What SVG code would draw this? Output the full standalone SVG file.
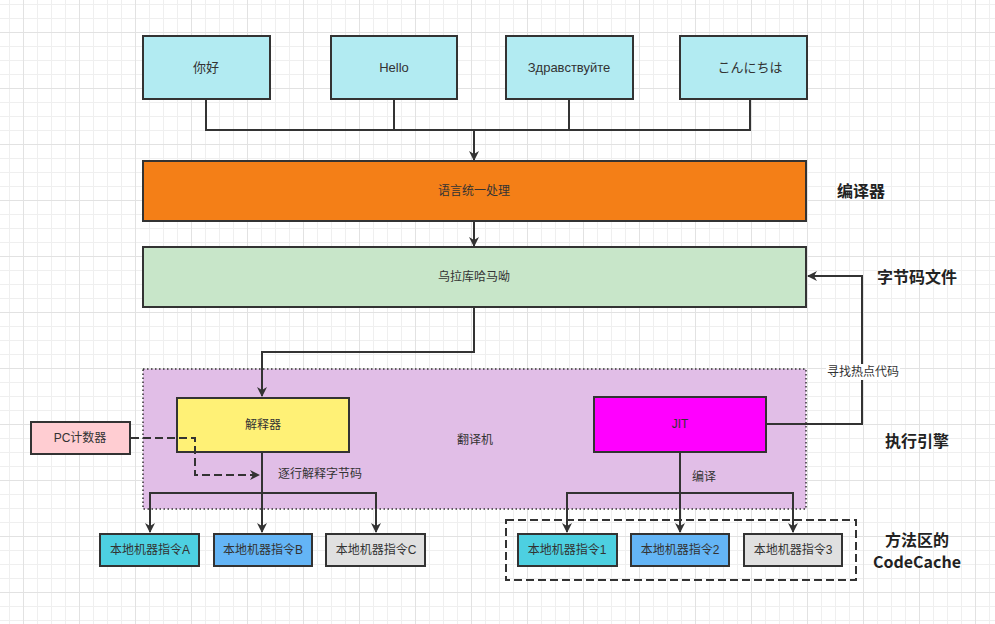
<svg xmlns="http://www.w3.org/2000/svg" width="995" height="624" viewBox="0 0 995 624">
<defs>
<pattern id="grid" patternUnits="userSpaceOnUse" x="23" y="32" width="56" height="56">
<path d="M14.5 0V56M28.5 0V56M42.5 0V56M0 14.5H56M0 28.5H56M0 42.5H56" stroke="#efefef" stroke-width="1" fill="none"/>
<path d="M0.5 0V56M0 0.5H56" stroke="#e2e2e2" stroke-width="1" fill="none"/>
</pattern>
<marker id="arr" viewBox="0 0 10 10" refX="9" refY="5" markerWidth="10" markerHeight="10" markerUnits="userSpaceOnUse" orient="auto">
<path d="M0 0L10 5L0 10L3 5Z" fill="#333"/>
</marker>
<style>
.box{stroke:#333;stroke-width:2}
.t{font-family:"Liberation Sans","Noto Sans CJK SC",sans-serif;font-size:12px;fill:#333;text-anchor:middle;dominant-baseline:central}
.big{font-size:13px}
.lbl{font-family:"Noto Sans CJK SC","Liberation Sans",sans-serif;font-size:16px;font-weight:bold;fill:#222;text-anchor:middle;dominant-baseline:central}
.c{fill:none;stroke:#333;stroke-width:2}
.d{fill:none;stroke:#333;stroke-width:2;stroke-dasharray:8 4}
</style>
</defs>
<rect width="995" height="624" fill="#fff"/>
<rect width="995" height="624" fill="url(#grid)"/>

<g id="engine">
<rect x="143" y="369" width="663" height="140" fill="#e1bee7" stroke="#333" stroke-width="1.5" stroke-dasharray="1.5 2.5"/>
<text class="t" x="475" y="440">翻译机</text>
</g>
<g id="codecache">
<rect x="506" y="520" width="350" height="60" fill="none" stroke="#333" stroke-width="2" stroke-dasharray="8 4"/>
</g>

<g id="n-nihao"><rect class="box" x="143" y="36" width="127" height="63" fill="#b2ebf2"/><text class="t big" x="206" y="67">你好</text></g>
<g id="n-hello"><rect class="box" x="331" y="36" width="126" height="63" fill="#b2ebf2"/><text class="t big" x="394" y="67">Hello</text></g>
<g id="n-ru"><rect class="box" x="506" y="36" width="127" height="63" fill="#b2ebf2"/><text class="t big" x="569" y="67">Здравствуйте</text></g>
<g id="n-jp"><rect class="box" x="680" y="36" width="127" height="63" fill="#b2ebf2"/><text class="t big" x="750" y="67">こんにちは</text></g>

<g id="n-unify"><rect class="box" x="143" y="161" width="663" height="60" fill="#f47f17"/><text class="t" x="474" y="191">语言统一处理</text></g>
<g id="n-bytecode"><rect class="box" x="143" y="247" width="663" height="60" fill="#c8e6c9"/><text class="t" x="474" y="277">乌拉库哈马呦</text></g>

<g id="n-interp"><rect class="box" x="177" y="398" width="172" height="54" fill="#fff176"/><text class="t" x="263" y="425">解释器</text></g>
<g id="n-jit"><rect class="box" x="594" y="397" width="172" height="55" fill="#ff00ff"/><text class="t" x="680" y="424">JIT</text></g>
<g id="n-pc"><rect class="box" x="31" y="422" width="99" height="32" fill="#ffcdd2"/><text class="t" x="80" y="438">PC计数器</text></g>

<g id="n-a"><rect class="box" x="100" y="534" width="99" height="32" fill="#4dd0e1"/><text class="t" x="150" y="550">本地机器指令A</text></g>
<g id="n-b"><rect class="box" x="214" y="534" width="98" height="32" fill="#64b5f6"/><text class="t" x="263" y="550">本地机器指令B</text></g>
<g id="n-c"><rect class="box" x="326" y="534" width="99" height="32" fill="#e0e0e0"/><text class="t" x="376" y="550">本地机器指令C</text></g>
<g id="n-1"><rect class="box" x="518" y="534" width="99" height="32" fill="#4dd0e1"/><text class="t" x="567" y="550">本地机器指令1</text></g>
<g id="n-2"><rect class="box" x="631" y="534" width="98" height="32" fill="#64b5f6"/><text class="t" x="680" y="550">本地机器指令2</text></g>
<g id="n-3"><rect class="box" x="744" y="534" width="98" height="32" fill="#e0e0e0"/><text class="t" x="793" y="550">本地机器指令3</text></g>

<g id="connectors">
<path class="c" d="M206 100V130H750V100M394 100V130M569 100V130"/>
<path class="c" d="M474 130V160" marker-end="url(#arr)"/>
<path class="c" d="M474 222V246" marker-end="url(#arr)"/>
<path class="c" d="M474 308V352H262V396" marker-end="url(#arr)"/>
<path class="c" d="M767 424H862V276H808" marker-end="url(#arr)"/>
<path class="d" d="M131 438H195V475H259" marker-end="url(#arr)"/>
<path class="c" d="M262 453V532" marker-end="url(#arr)"/>
<path class="c" d="M262 493H150V532" marker-end="url(#arr)"/>
<path class="c" d="M262 493H376V532" marker-end="url(#arr)"/>
<path class="c" d="M680 453V532" marker-end="url(#arr)"/>
<path class="c" d="M680 493H567V532" marker-end="url(#arr)"/>
<path class="c" d="M680 493H793V532" marker-end="url(#arr)"/>
<rect x="826" y="364" width="74" height="16" fill="#fff"/>
<text class="t" x="863" y="372">寻找热点代码</text>
<text class="t" x="278" y="474" style="text-anchor:start">逐行解释字节码</text>
<text class="t" x="704" y="477">编译</text>
</g>

<g id="labels">
<text class="lbl" x="861" y="190">编译器</text>
<text class="lbl" x="917" y="276">字节码文件</text>
<text class="lbl" x="917" y="440">执行引擎</text>
<text class="lbl" x="917" y="539">方法区的</text>
<text class="lbl" x="917" y="561">CodeCache</text>
</g>
</svg>
